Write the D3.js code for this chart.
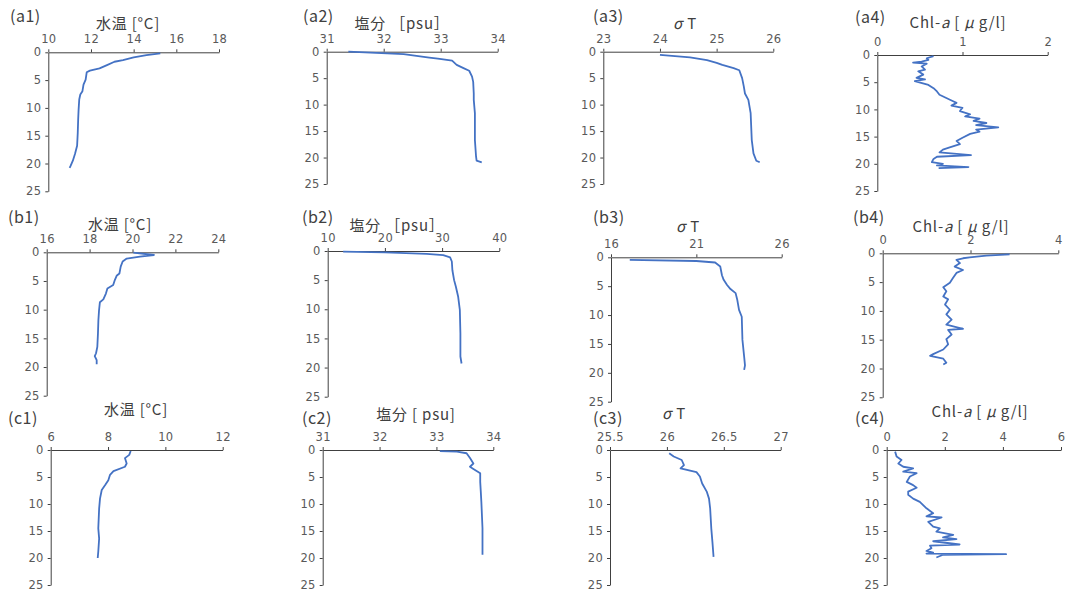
<!DOCTYPE html>
<html>
<head>
<meta charset="utf-8">
<script src="https://cdn.jsdelivr.net/npm/d3@7"></script>
<style>
  body { margin: 0; background: #fff; }
  svg { display: block; font-family: "Noto Sans CJK JP", "Noto Sans", sans-serif; }
  .axis path, .axis line { stroke: #404040; }
  .axis text { fill: #595959; font-size: 11.5px; font-family: "DejaVu Sans", "Noto Sans", sans-serif; letter-spacing: 0.3px; }
  .profile { fill: none; stroke: #4472C4; stroke-width: 1.8; stroke-linejoin: round; }
  .ttl { fill: #404040; font-size: 15px; letter-spacing: 0.8px; }
  .tag { fill: #404040; font-size: 16px; letter-spacing: 0.5px; }
</style>
</head>
<body>
<svg id="chart" width="1068" height="590"></svg>
<script>
// ---- data ----
const depthTicks = [0, 5, 10, 15, 20, 25];

// (a1) water temperature
const a1Depth = [0.2, 0.5, 0.9, 1.4, 1.7, 2.3, 2.9, 3.3, 3.6, 4.9, 5.8, 7.0, 7.6, 8.5, 10.3, 12.1, 14.5, 16.8, 18.3, 19.5, 20.4, 20.8];
const a1Val   = [15.25, 14.6, 14.0, 13.5, 13.1, 12.75, 12.4, 11.95, 11.8, 11.75, 11.65, 11.6, 11.5, 11.45, 11.42, 11.4, 11.38, 11.35, 11.25, 11.15, 11.05, 11.0];
// (a2) salinity
const a2Depth = [0.0, 0.45, 1.1, 1.3, 1.7, 2.5, 3.1, 3.6, 4.7, 5.7, 7.9, 9.1, 11.6, 16.7, 19.8, 20.6, 20.9];
const a2Val   = [31.38, 32.35, 32.8, 32.95, 33.2, 33.28, 33.4, 33.5, 33.55, 33.57, 33.58, 33.58, 33.6, 33.6, 33.62, 33.63, 33.72];
// (a3) sigma-T
const a3Depth = [0.6, 1.07, 1.6, 2.1, 2.5, 3.1, 3.5, 5.0, 6.6, 7.9, 9.1, 11.6, 16.7, 19.2, 20.6, 20.9];
const a3Val   = [24.0, 24.53, 24.83, 25.0, 25.1, 25.3, 25.4, 25.45, 25.48, 25.5, 25.56, 25.6, 25.62, 25.65, 25.7, 25.76];
// (a4) chlorophyll-a
const a4Depth = [0.2, 0.6, 0.9, 1.2, 1.4, 1.6, 2.1, 2.7, 3.0, 3.6, 4.2, 4.5, 4.8, 5.5, 6.1, 6.7, 7.3, 7.9, 8.5, 8.8, 9.3, 9.7, 10.3, 10.9, 11.3, 11.7, 12.1, 12.5, 12.9, 13.3, 13.7, 14.1, 14.5, 15.2, 15.8, 16.4, 17.0, 17.4, 17.9, 18.4, 18.7, 19.1, 19.7, 20.0, 20.3, 20.6, 20.8];
const a4Val   = [0.66, 0.58, 0.6, 0.52, 0.42, 0.58, 0.52, 0.56, 0.48, 0.54, 0.46, 0.56, 0.44, 0.6, 0.66, 0.7, 0.73, 0.81, 0.89, 0.93, 0.87, 1.0, 0.97, 1.09, 1.03, 1.2, 1.13, 1.28, 1.16, 1.42, 1.16, 1.2, 1.09, 1.0, 0.93, 0.97, 0.85, 0.77, 0.73, 1.1, 0.7, 0.66, 0.64, 0.77, 0.7, 1.07, 0.72];

// (b1) water temperature
const b1Depth = [0.06, 0.47, 0.76, 1.1, 1.6, 2.5, 3.7, 4.1, 4.8, 5.7, 6.3, 7.2, 8.2, 8.7, 10.1, 11.8, 14.1, 16.5, 17.6, 18.1, 18.8, 19.5];
const b1Val   = [20.04, 21.0, 20.35, 19.73, 19.54, 19.45, 19.39, 19.26, 19.18, 19.1, 18.83, 18.76, 18.64, 18.48, 18.44, 18.41, 18.39, 18.36, 18.3, 18.24, 18.33, 18.33];
// (b2) salinity
const b2Depth = [0.1, 0.23, 0.5, 0.7, 1.1, 1.8, 3.3, 5.0, 6.1, 7.8, 10.1, 14.1, 18.1, 19.3];
const b2Val   = [12.7, 20.0, 27.3, 30.2, 31.4, 31.7, 31.8, 32.1, 32.4, 32.8, 33.1, 33.2, 33.2, 33.4];
// (b3) sigma-T
const b3Depth = [0.46, 0.64, 0.9, 1.6, 3.1, 3.9, 4.8, 5.5, 6.2, 7.4, 9.1, 10.3, 14.3, 17.2, 18.7, 19.5];
const b3Val   = [17.1, 21.0, 22.1, 22.4, 22.5, 22.6, 22.8, 23.0, 23.3, 23.4, 23.5, 23.66, 23.7, 23.8, 23.85, 23.8];
// (b4) chlorophyll-a
const b4Depth = [0.17, 0.4, 0.7, 0.86, 1.15, 1.7, 2.3, 2.9, 3.4, 4.3, 5.1, 5.9, 6.6, 7.5, 8.0, 8.9, 9.8, 10.6, 11.5, 12.4, 13.1, 13.3, 14.1, 14.9, 15.8, 16.7, 17.5, 17.8, 18.3, 19.0, 19.3];
const b4Val   = [2.89, 2.36, 1.98, 1.83, 1.68, 1.76, 1.64, 1.83, 1.68, 1.6, 1.53, 1.38, 1.45, 1.38, 1.49, 1.42, 1.53, 1.45, 1.57, 1.45, 1.83, 1.49, 1.57, 1.45, 1.49, 1.38, 1.15, 1.08, 1.38, 1.45, 1.38];

// (c1) water temperature
const c1Depth = [0.19, 0.9, 1.5, 2.5, 3.1, 3.9, 4.6, 5.6, 6.5, 7.4, 9.0, 10.8, 14.5, 16.4, 18.8, 20.0];
const c1Val   = [8.79, 8.74, 8.59, 8.65, 8.59, 8.19, 8.07, 8.01, 7.9, 7.78, 7.72, 7.69, 7.66, 7.69, 7.66, 7.64];
// (c2) salinity
const c2Depth = [0.19, 0.3, 0.6, 1.5, 2.5, 3.1, 3.5, 4.3, 5.9, 7.7, 9.6, 14.5, 19.4];
const c2Val   = [33.06, 33.36, 33.53, 33.59, 33.65, 33.59, 33.65, 33.77, 33.77, 33.78, 33.79, 33.81, 33.81];
// (c3) sigma-T
const c3Depth = [0.6, 1.2, 1.85, 2.8, 3.4, 4.1, 4.9, 6.2, 7.7, 9.0, 10.8, 14.5, 17.0, 19.8];
const c3Val   = [26.02, 26.06, 26.13, 26.15, 26.12, 26.26, 26.29, 26.31, 26.35, 26.37, 26.38, 26.39, 26.4, 26.41];
// (c4) chlorophyll-a
const c4Depth = [0.3, 1.2, 1.85, 2.5, 3.1, 3.4, 4.0, 4.3, 4.9, 5.9, 6.5, 7.0, 7.7, 8.3, 9.0, 9.6, 10.8, 11.7, 12.3, 12.5, 13.3, 14.2, 14.5, 15.1, 15.7, 16.2, 16.5, 16.9, 17.5, 17.7, 18.2, 18.7, 19.0, 19.2, 19.3, 19.4, 19.9];
const c4Val   = [0.29, 0.34, 0.51, 0.4, 0.57, 0.91, 0.57, 1.03, 0.8, 0.69, 0.91, 1.03, 0.74, 0.74, 0.91, 1.14, 1.37, 1.6, 1.37, 1.89, 1.43, 1.6, 1.83, 1.71, 2.29, 1.94, 2.4, 1.6, 2.51, 1.49, 1.54, 1.37, 1.6, 1.37, 4.11, 1.94, 1.71];

const tempTitle = "水温 [°C]";
const salTitle  = "塩分 ［psu］";

// panel layout: box = [left, top, right, bottom(depth 25)]
const panels = [
  {tag: "(a1)", tagPos: [10, 16],  title: tempTitle, titlePos: [128, 24], box: [48.3, 52.3, 219, 191.3],   dom: [10, 18], ticks: [10, 12, 14, 16, 18], depth: a1Depth, val: a1Val},
  {tag: "(a2)", tagPos: [303, 16], title: salTitle,  titlePos: [402, 24], box: [326.7, 51.7, 497.7, 184],  dom: [31, 34], ticks: [31, 32, 33, 34], depth: a2Depth, val: a2Val},
  {tag: "(a3)", tagPos: [593, 16], title: "σT",      titlePos: [685, 24], box: [603.3, 51.7, 773.3, 184],  dom: [23, 26], ticks: [23, 24, 25, 26], depth: a3Depth, val: a3Val},
  {tag: "(a4)", tagPos: [855, 17], title: "chl",     titlePos: [958, 23], box: [877.3, 55, 1047.7, 191],   dom: [0, 2],   ticks: [0, 1, 2], depth: a4Depth, val: a4Val},
  {tag: "(b1)", tagPos: [8, 217],  title: tempTitle, titlePos: [120, 225], box: [46.7, 252.3, 218.3, 395.7], dom: [16, 24], ticks: [16, 18, 20, 22, 24], depth: b1Depth, val: b1Val},
  {tag: "(b2)", tagPos: [302, 217], title: salTitle, titlePos: [397, 226], box: [327.7, 251, 499.3, 396.7], dom: [10, 40], ticks: [10, 20, 30, 40], depth: b2Depth, val: b2Val},
  {tag: "(b3)", tagPos: [593, 217], title: "σT",     titlePos: [688, 227], box: [611, 257.3, 781.7, 401.7], dom: [16, 26], ticks: [16, 21, 26], depth: b3Depth, val: b3Val},
  {tag: "(b4)", tagPos: [853, 217], title: "chl",    titlePos: [961, 227], box: [882.7, 253.3, 1058.3, 397.3], dom: [0, 4], ticks: [0, 2, 4], depth: b4Depth, val: b4Val},
  {tag: "(c1)", tagPos: [8, 418],  title: tempTitle, titlePos: [136, 410], box: [50.7, 450, 222.7, 585],   dom: [6, 12],  ticks: [6, 8, 10, 12], depth: c1Depth, val: c1Val},
  {tag: "(c2)", tagPos: [302, 418], title: "塩分 [ psu]", titlePos: [416, 415], box: [322.7, 450, 493.3, 585], dom: [31, 34], ticks: [31, 32, 33, 34], depth: c2Depth, val: c2Val},
  {tag: "(c3)", tagPos: [593, 418], title: "σT",     titlePos: [674, 414], box: [610, 450, 780.7, 585],   dom: [25.5, 27], ticks: [25.5, 26, 26.5, 27], depth: c3Depth, val: c3Val},
  {tag: "(c4)", tagPos: [855, 418], title: "chl",    titlePos: [980, 412], box: [886.7, 450, 1061, 585],  dom: [0, 6],   ticks: [0, 2, 4, 6], depth: c4Depth, val: c4Val}
];

const svg = d3.select("#chart");

panels.forEach(p => {
  const [x0, y0, x1, y1] = p.box;
  const x = d3.scaleLinear().domain(p.dom).range([x0, x1]);
  const y = d3.scaleLinear().domain([0, 25]).range([y0, y1]);

  // top (value) axis
  svg.append("g")
    .attr("class", "axis")
    .attr("transform", `translate(0,${y0})`)
    .call(d3.axisTop(x).tickValues(p.ticks).tickSize(3).tickSizeOuter(0).tickPadding(6)
      .tickFormat(d => String(d)));

  // left (depth) axis
  svg.append("g")
    .attr("class", "axis")
    .attr("transform", `translate(${x0},0)`)
    .call(d3.axisLeft(y).tickValues(depthTicks).tickSize(3).tickSizeOuter(0).tickPadding(4));

  const pts = p.depth.map((d, i) => [p.val[i], d]);
  svg.append("path")
    .datum(pts)
    .attr("class", "profile")
    .attr("d", d3.line().x(d => x(d[0])).y(d => y(d[1])));

  svg.append("text")
    .attr("class", "tag")
    .attr("x", p.tagPos[0]).attr("y", p.tagPos[1]).attr("dy", "0.35em")
    .text(p.tag);

  const t = svg.append("text")
    .attr("class", "ttl")
    .attr("x", p.titlePos[0]).attr("y", p.titlePos[1]).attr("dy", "0.35em")
    .attr("text-anchor", "middle");
  if (p.title === "chl") {
    t.append("tspan").text("Chl-");
    t.append("tspan").attr("font-style", "italic").text("a");
    t.append("tspan").text(" [ ");
    t.append("tspan").attr("font-style", "italic").text("μ");
    t.append("tspan").text(" g/l]");
  } else if (p.title === "σT") {
    t.append("tspan").attr("font-style", "italic").text("σ");
    t.append("tspan").text(" T");
  } else {
    t.text(p.title);
  }
});
</script>
</body>
</html>
